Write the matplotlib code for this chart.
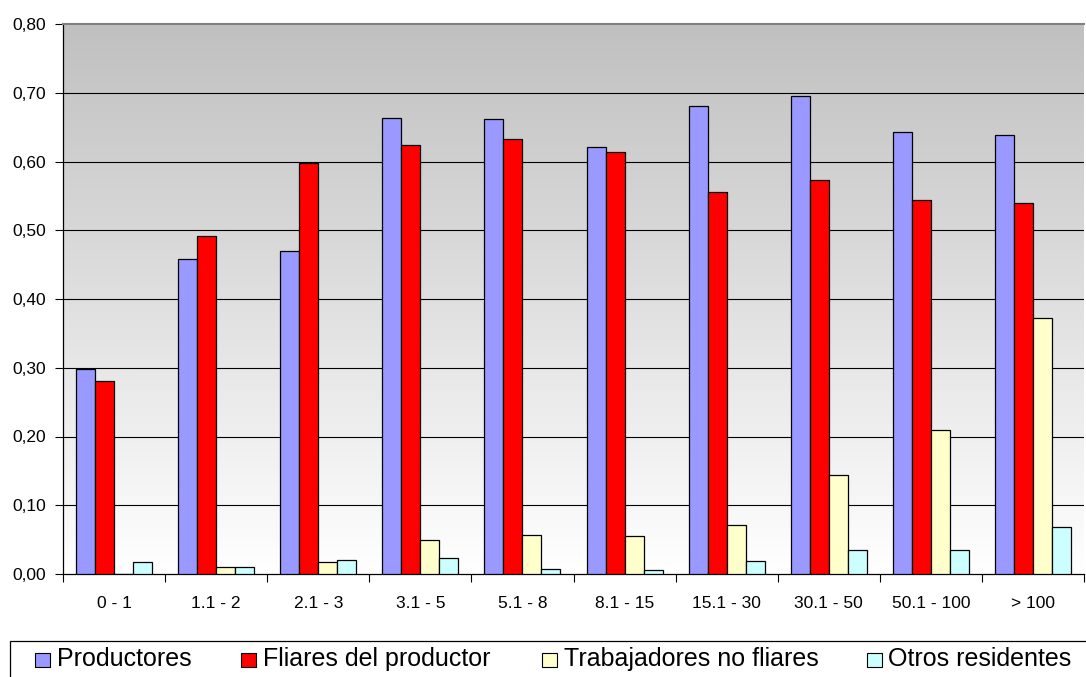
import matplotlib
matplotlib.use("Agg")
import matplotlib.pyplot as plt
import numpy as np
from matplotlib.patches import Rectangle
from matplotlib.colors import LinearSegmentedColormap

categories = ["0 - 1", "1.1 - 2", "2.1 - 3", "3.1 - 5", "5.1 - 8", "8.1 - 15",
              "15.1 - 30", "30.1 - 50", "50.1 - 100", "> 100"]
productores = [0.298, 0.458, 0.470, 0.664, 0.662, 0.621, 0.681, 0.696, 0.643, 0.639]
fliares = [0.281, 0.491, 0.598, 0.624, 0.633, 0.614, 0.556, 0.573, 0.544, 0.539]
trabajadores = [0.0, 0.010, 0.018, 0.049, 0.057, 0.056, 0.072, 0.144, 0.210, 0.372]
otros = [0.018, 0.010, 0.021, 0.024, 0.007, 0.006, 0.019, 0.035, 0.035, 0.068]
series_names = ["Productores", "Fliares del productor", "Trabajadores no fliares", "Otros residentes"]
y_ticks = [0.0, 0.1, 0.2, 0.3, 0.4, 0.5, 0.6, 0.7, 0.8]
y_labels = ["0,00", "0,10", "0,20", "0,30", "0,40", "0,50", "0,60", "0,70", "0,80"]

colors = ["#9999FF", "#FF0000", "#FFFFCC", "#CCFFFF"]
plt.rcParams['font.family'] = ['Liberation Sans', 'DejaVu Sans']

W, H = 1086, 677
fig = plt.figure(figsize=(W / 100, H / 100), dpi=100)
ax = fig.add_axes([63 / W, (H - 574) / H, 1021 / W, 550 / H])

n = len(categories)
x = np.arange(n)
bw = 0.186
data = [productores, fliares, trabajadores, otros]
for i, (vals, c) in enumerate(zip(data, colors)):
    ax.bar(x + (i - 1.5) * bw, vals, width=bw, color=c, edgecolor="black",
           linewidth=0.9, zorder=3)

ax.set_xlim(-0.5, n - 0.5)
ax.set_ylim(0, 0.8)

# gradient background
cmap = LinearSegmentedColormap.from_list("g", ["#FFFFFF", "#C0C0C0"])
grad = np.linspace(0, 1, 256).reshape(-1, 1)
ax.imshow(grad, cmap=cmap, aspect="auto", extent=(-0.5, n - 0.5, 0, 0.8),
          origin="lower", zorder=0)

ax.set_yticks(y_ticks)
ax.set_yticklabels(y_labels, fontsize=12.5)
for yv in y_ticks[1:-1]:
    ax.axhline(yv, color="black", linewidth=0.8, zorder=1)

ax.set_xticks(x)
ax.set_xticklabels(categories, fontsize=12.5)
ax.tick_params(axis="x", length=0, pad=16)
ax.set_xticks(np.arange(-0.5, n, 1.0), minor=True)
ax.tick_params(axis="x", which="minor", length=6, width=0.8, color="black")
ax.tick_params(axis="y", length=6, width=0.8, pad=6)

ax.spines["right"].set_visible(False)
ax.spines["top"].set_color("#808080")
ax.spines["top"].set_linewidth(1.5)
ax.spines["left"].set_linewidth(0.9)
ax.spines["bottom"].set_linewidth(0.9)

def px(xp, yp):
    return xp / W, 1 - yp / H

# legend frame
fx, fy = px(10, 700)
fig.patches.append(Rectangle((fx, fy), 1.0, (700 - 641) / H,
                             transform=fig.transFigure, fill=False,
                             edgecolor="black", linewidth=0.9))
patch_x = [35, 241, 541.5, 866.5]
for name, c, pxx in zip(series_names, colors, patch_x):
    rx, ry = px(pxx, 667)
    fig.patches.append(Rectangle((rx, ry), 15 / W, 14 / H, transform=fig.transFigure,
                                 facecolor=c, edgecolor="black", linewidth=0.8))
    tx, ty = px(pxx + 22, 659)
    fig.text(tx, ty, name, fontsize=18, va="center", ha="left")

fig.savefig("out.png", dpi=100)
